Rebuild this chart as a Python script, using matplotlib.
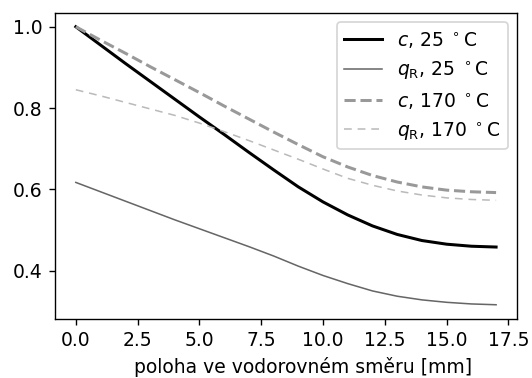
import matplotlib
matplotlib.use("Agg")
import matplotlib.pyplot as plt

# horizontal position [mm]
x = list(range(18))

c_25 = [1.000, 0.955, 0.910, 0.866, 0.822, 0.778, 0.735, 0.691, 0.648, 0.606,
        0.569, 0.537, 0.510, 0.489, 0.474, 0.465, 0.460, 0.458]
qr_25 = [0.617, 0.594, 0.571, 0.548, 0.525, 0.503, 0.481, 0.459, 0.436, 0.411,
         0.388, 0.368, 0.350, 0.337, 0.328, 0.322, 0.318, 0.316]
c_170 = [1.000, 0.967, 0.935, 0.902, 0.870, 0.838, 0.805, 0.773, 0.741, 0.710,
         0.680, 0.655, 0.634, 0.618, 0.606, 0.598, 0.594, 0.592]
qr_170 = [0.845, 0.830, 0.814, 0.798, 0.782, 0.763, 0.742, 0.720, 0.697, 0.674,
          0.650, 0.627, 0.610, 0.596, 0.586, 0.579, 0.575, 0.573]

plt.rcParams['font.size'] = 10.9

dpi = 124
fig, ax = plt.subplots(figsize=(532 / dpi, 378 / dpi), dpi=dpi)
fig.subplots_adjust(left=0.103, right=0.972, top=0.966, bottom=0.157)

ax.plot(x, c_25, color="black", lw=1.75, label=r"$c$, 25 $^\circ$C")
ax.plot(x, qr_25, color="0.4", lw=0.9, label=r"$q_\mathrm{R}$, 25 $^\circ$C")
ax.plot(x, c_170, color="0.6", lw=1.75, ls="--", label=r"$c$, 170 $^\circ$C")
ax.plot(x, qr_170, color="0.73", lw=0.9, ls="--", dashes=(5, 3.8),
        label=r"$q_\mathrm{R}$, 170 $^\circ$C")

ax.set_xticks([0, 2.5, 5, 7.5, 10, 12.5, 15, 17.5])
ax.set_yticks([0.4, 0.6, 0.8, 1.0])
ax.set_xlabel("poloha ve vodorovném směru [mm]", x=0.537)
ax.legend(loc="upper right")

fig.savefig("out.png", dpi=dpi)
